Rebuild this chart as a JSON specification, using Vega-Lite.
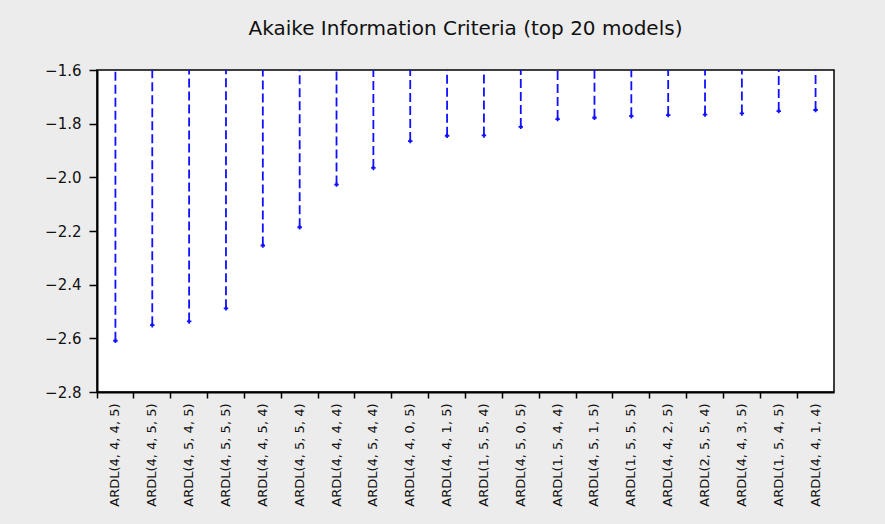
{
  "$schema": "https://vega.github.io/schema/vega-lite/v6.json",
  "width": 737,
  "height": 322,
  "autosize": {"type": "none"},
  "padding": {"left": 97, "top": 70, "right": 51, "bottom": 132},
  "background": "#ececec",
  "title": {
    "text": "Akaike Information Criteria (top 20 models)",
    "font": "DejaVu Sans",
    "fontSize": 20,
    "fontWeight": "normal",
    "color": "#111111",
    "offset": 24,
    "anchor": "middle"
  },
  "config": {
    "view": {"stroke": "#000000", "strokeWidth": 1.5, "fill": "#ffffff"},
    "axis": {
      "labelFont": "DejaVu Sans",
      "labelColor": "#111111",
      "domainColor": "#000000",
      "domainWidth": 2,
      "tickColor": "#000000",
      "tickWidth": 1.5,
      "grid": false,
      "title": null
    }
  },
  "data": {
    "values": [
      {"model": "ARDL(4, 4, 4, 5)", "aic": -2.609},
      {"model": "ARDL(4, 4, 5, 5)", "aic": -2.551},
      {"model": "ARDL(4, 5, 4, 5)", "aic": -2.537},
      {"model": "ARDL(4, 5, 5, 5)", "aic": -2.488},
      {"model": "ARDL(4, 4, 5, 4)", "aic": -2.254},
      {"model": "ARDL(4, 5, 5, 4)", "aic": -2.186},
      {"model": "ARDL(4, 4, 4, 4)", "aic": -2.027},
      {"model": "ARDL(4, 5, 4, 4)", "aic": -1.965},
      {"model": "ARDL(4, 4, 0, 5)", "aic": -1.865},
      {"model": "ARDL(4, 4, 1, 5)", "aic": -1.845},
      {"model": "ARDL(1, 5, 5, 4)", "aic": -1.844},
      {"model": "ARDL(4, 5, 0, 5)", "aic": -1.812},
      {"model": "ARDL(1, 5, 4, 4)", "aic": -1.783},
      {"model": "ARDL(4, 5, 1, 5)", "aic": -1.778},
      {"model": "ARDL(1, 5, 5, 5)", "aic": -1.772},
      {"model": "ARDL(4, 4, 2, 5)", "aic": -1.768},
      {"model": "ARDL(2, 5, 5, 4)", "aic": -1.766},
      {"model": "ARDL(4, 4, 3, 5)", "aic": -1.762},
      {"model": "ARDL(1, 5, 4, 5)", "aic": -1.753},
      {"model": "ARDL(4, 4, 1, 4)", "aic": -1.749}
    ]
  },
  "encoding": {
    "x": {
      "field": "model",
      "type": "nominal",
      "sort": null,
      "scale": {"paddingInner": 0, "paddingOuter": 0},
      "axis": {"labelAngle": -90, "bandPosition": 0, "tickSize": 6, "labelPadding": 5, "labelFontSize": 13}
    }
  },
  "layer": [
    {
      "mark": {"type": "rule", "color": "#1010ff", "strokeWidth": 1.8, "strokeDash": [9, 4]},
      "encoding": {
        "y": {
          "field": "aic",
          "type": "quantitative",
          "scale": {"domain": [-2.8, -1.6], "nice": false, "zero": false},
          "axis": {"values": [-2.8, -2.6, -2.4, -2.2, -2.0, -1.8, -1.6], "format": ".1f", "tickSize": 8, "labelPadding": 8, "labelFontSize": 15}
        },
        "y2": {"datum": -1.6}
      }
    },
    {
      "mark": {"type": "point", "shape": "cross", "filled": true, "color": "#1010ff", "size": 20, "opacity": 1},
      "encoding": {
        "y": {"field": "aic", "type": "quantitative"}
      }
    }
  ]
}
